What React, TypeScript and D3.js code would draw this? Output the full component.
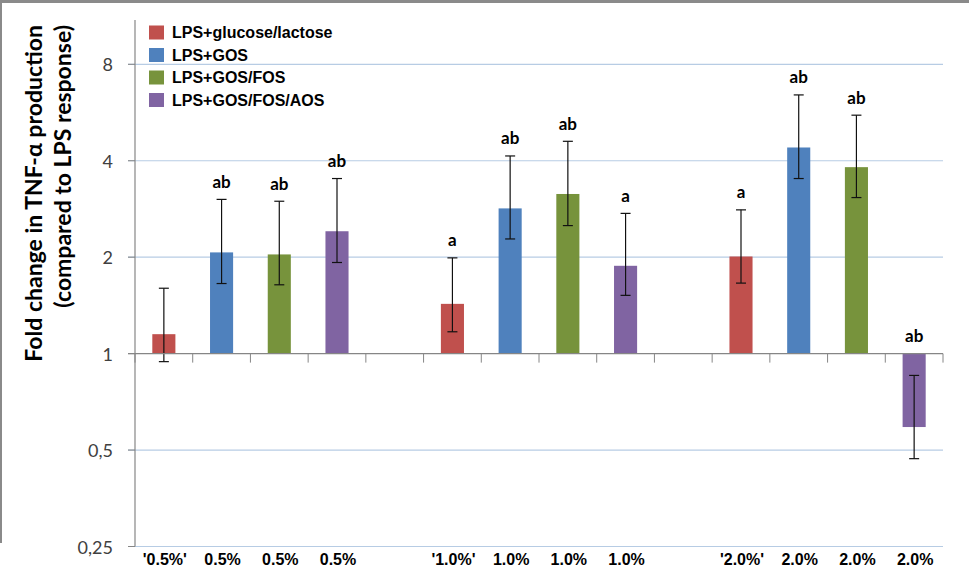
import React from "react";
import * as d3 from "d3";

const groups = ["0.5%", "1.0%", "2.0%"];
const seriesNames = ["LPS+glucose/lactose", "LPS+GOS", "LPS+GOS/FOS", "LPS+GOS/FOS/AOS"];
const seriesColors = ["#C0504D", "#4F81BD", "#77933C", "#8064A2"];
const tickLabels = [
  "'0.5%'", "0.5%", "0.5%", "0.5%",
  "'1.0%'", "1.0%", "1.0%", "1.0%",
  "'2.0%'", "2.0%", "2.0%", "2.0%",
];
// values per series across groups (0.5%, 1.0%, 2.0%)
const glucoseLactose = [1.15, 1.43, 2.01];
const gos = [2.07, 2.84, 4.4];
const gosFos = [2.04, 3.15, 3.82];
const gosFosAos = [2.41, 1.88, 0.59];
const errLow = [
  [0.944, 1.17, 1.66],
  [1.655, 2.28, 3.52],
  [1.64, 2.51, 3.07],
  [1.925, 1.52, 0.47],
];
const errHigh = [
  [1.6, 1.99, 2.81],
  [3.03, 4.14, 6.42],
  [2.99, 4.6, 5.55],
  [3.52, 2.74, 0.855],
];
const sigLabels = [
  ["", "a", "a"],
  ["ab", "ab", "ab"],
  ["ab", "ab", "ab"],
  ["ab", "a", "ab"],
];
const yTicks = [0.25, 0.5, 1, 2, 4, 8];
const yTickLabels = ["0,25", "0,5", "1", "2", "4", "8"];
const yMax = 11;

const W = 969;
const H = 578;

export default function App() {
  const values = [glucoseLactose, gos, gosFos, gosFosAos];
  const slots = d3.range(14).map(String);
  const x = d3.scaleBand<string>().domain(slots).range([135, 943]).paddingInner(0).paddingOuter(0);
  const y = d3.scaleLog().base(2).domain([0.25, yMax]).range([546.5, 20]);
  const bw = x.bandwidth() * 0.4;
  const slotOf = (g: number, s: number) => String(g * 5 + s);
  const y1 = y(1);

  const bars: React.ReactNode[] = [];
  values.forEach((vals, s) => {
    vals.forEach((v, g) => {
      const cx = (x(slotOf(g, s)) as number) + x.bandwidth() / 2;
      const yv = y(v);
      const yl = y(errLow[s][g]);
      const yh = y(errHigh[s][g]);
      bars.push(
        <g key={`b${s}-${g}`}>
          <rect x={cx - bw / 2} y={Math.min(yv, y1)} width={bw} height={Math.abs(y1 - yv)} fill={seriesColors[s]} />
          <line x1={cx} x2={cx} y1={yh} y2={yl} stroke="#111" strokeWidth={1.2} />
          <line x1={cx - 5} x2={cx + 5} y1={yh} y2={yh} stroke="#111" strokeWidth={1.2} />
          <line x1={cx - 5} x2={cx + 5} y1={yl} y2={yl} stroke="#111" strokeWidth={1.2} />
          {sigLabels[s][g] && (
            <text x={cx} y={Math.min(yh, y1) - 18} textAnchor="middle" dominantBaseline="central"
              fontFamily="Lato, 'Open Sans', sans-serif" fontWeight="bold" fontSize={17} fill="#000">
              {sigLabels[s][g]}
            </text>
          )}
        </g>
      );
    });
  });

  const boundaries = d3.range(15).map((i) => 135 + i * x.bandwidth());

  return (
    <svg width={W} height={H} style={{ position: "absolute", left: 0, top: 0, background: "#fff" }}>
      <rect x={0} y={0} width={W} height={H} fill="#fff" />
      {/* frame */}
      <line x1={0} x2={W} y1={1.5} y2={1.5} stroke="#8a8a8a" strokeWidth={3} />
      <line x1={1} x2={1} y1={0} y2={543} stroke="#8a8a8a" strokeWidth={2} />
      {/* gridlines */}
      {yTicks.filter((t) => t !== 1).map((t) => (
        <line key={`g${t}`} x1={128} x2={943} y1={y(t)} y2={y(t)} stroke="#B7CCE4" strokeWidth={1.2} />
      ))}
      {/* y tick marks */}
      {yTicks.map((t) => (
        <line key={`yt${t}`} x1={128} x2={135} y1={y(t)} y2={y(t)} stroke="#868686" strokeWidth={1} />
      ))}
      {/* y axis */}
      <line x1={135} x2={135} y1={y(yMax)} y2={y(0.25)} stroke="#868686" strokeWidth={1.2} />
      {/* y tick labels */}
      {yTicks.map((t, i) => (
        <text key={`yl${t}`} x={113} y={y(t)} textAnchor="end" dominantBaseline="central"
          fontFamily="Lato, 'Open Sans', sans-serif" fontSize={18} fill="#404040">
          {yTickLabels[i]}
        </text>
      ))}
      {bars}
      {/* x axis at 1 */}
      <line x1={128} x2={943} y1={y1} y2={y1} stroke="#868686" strokeWidth={1.2} />
      {boundaries.map((bx, i) => (
        <line key={`xt${i}`} x1={bx} x2={bx} y1={y1} y2={y1 + 9} stroke="#868686" strokeWidth={1} />
      ))}
      {/* category labels */}
      {groups.map((g, gi) =>
        seriesNames.map((_, s) => {
          const cx = (x(slotOf(gi, s)) as number) + x.bandwidth() / 2;
          return (
            <text key={`cl${gi}-${s}`} x={cx + 1} y={559} textAnchor="middle" dominantBaseline="central"
              fontFamily="'Liberation Sans', Arial, sans-serif" fontWeight="bold" fontSize={16} fill="#000">
              {tickLabels[gi * 4 + s]}
            </text>
          );
        })
      )}
      {/* legend */}
      {seriesNames.map((n, i) => (
        <g key={`lg${i}`} transform={`translate(149, ${32.5 + i * 22.5})`}>
          <rect x={0} y={-7} width={15} height={14} fill={seriesColors[i]} />
          <text x={23} y={0} dominantBaseline="central" fontFamily="'Liberation Sans', Arial, sans-serif"
            fontWeight="bold" fontSize={16} fill="#000">
            {n}
          </text>
        </g>
      ))}
      {/* y title */}
      <text transform="translate(33,25) rotate(-90)" textAnchor="end" dominantBaseline="central"
        fontFamily="Lato, 'Open Sans', sans-serif" fontWeight="bold" fontSize={23} fill="#000">
        Fold change in TNF-α production
      </text>
      <text transform="translate(62,25) rotate(-90)" textAnchor="end" dominantBaseline="central"
        fontFamily="Lato, 'Open Sans', sans-serif" fontWeight="bold" fontSize={23} fill="#000">
        (compared to LPS response)
      </text>
    </svg>
  );
}
